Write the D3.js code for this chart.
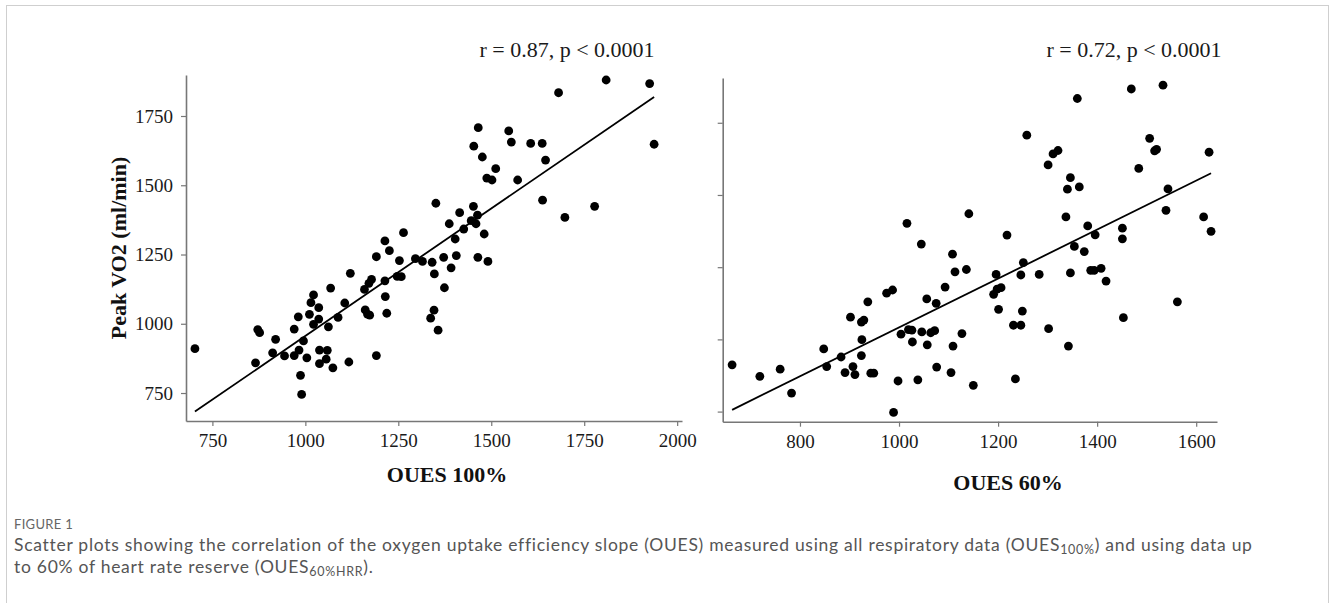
<!DOCTYPE html>
<html>
<head>
<meta charset="utf-8">
<script src="https://cdn.jsdelivr.net/npm/d3@7"></script>
<style>
  html, body { margin: 0; padding: 0; background: #fff; }
  svg { display: block; }
</style>
</head>
<body>
<script>
// OUES 100% vs Peak VO2 (left panel)
const oues100 = [1351, 1415, 1387, 1264, 1214, 1809, 1926, 1681, 1465, 1547, 1554, 1606, 1637, 1453, 1938, 1476,
  1646, 1512, 1488, 1502, 1571, 1638, 1778, 1698, 1452, 1463, 1446, 1459, 1426, 1481, 1403, 1226, 1191, 1406,
  1253, 1296, 1315, 1341, 1372, 1392, 1347, 1247, 1258, 1121, 1178, 1171, 1214, 1159, 1374, 1068, 1215, 1022,
  1015, 1106, 1036, 1161, 1167, 1173, 1219, 1346, 1337, 1011, 981, 1036, 1088, 1022, 1062, 1357, 970, 872, 877,
  920, 995, 703, 983, 1038, 1059, 912, 944, 970, 1004, 1056, 1191, 866, 1038, 1117, 1074, 987, 990, 1464, 1491];
const vo2Left = [1435, 1401, 1361, 1329, 1299, 1880, 1867, 1834, 1708, 1696, 1656, 1651, 1651, 1641, 1648, 1602,
  1591, 1560, 1526, 1519, 1519, 1446, 1424, 1384, 1424, 1392, 1372, 1361, 1342, 1324, 1306, 1264, 1242, 1246,
  1228, 1235, 1225, 1222, 1240, 1202, 1180, 1171, 1170, 1182, 1160, 1146, 1155, 1124, 1130, 1129, 1098, 1104,
  1076, 1075, 1058, 1050, 1035, 1031, 1038, 1049, 1020, 1034, 1025, 1017, 1023, 998, 989, 977, 981, 979, 968,
  944, 938, 910, 905, 905, 904, 895, 884, 885, 877, 872, 885, 859, 856, 862, 841, 814, 745, 1240, 1225];

// OUES 60% vs Peak VO2 (right panel)
const oues60 = [1016, 1141, 1469, 1533, 1360, 1258, 1506, 1520, 1516, 1626, 1311, 1321, 1301, 1484, 1346, 1340,
  1364, 1543, 1337, 1539, 1615, 1218, 1381, 1451, 1396, 1630, 1451, 1045, 1108, 1113, 1136, 1093, 987, 975,
  1056, 1075, 937, 902, 929, 924, 1019, 1026, 1004, 1046, 1064, 1072, 1127, 925, 1027, 1057, 1109, 848, 883,
  924, 663, 854, 907, 1076, 719, 760, 891, 911, 943, 949, 1105, 998, 1038, 1150, 783, 989, 1354, 1374, 1251,
  1196, 1246, 1283, 1346, 1387, 1394, 1408, 1418, 1206, 1198, 1191, 1201, 1249, 1562, 1453, 1231, 1246, 1302,
  1342, 1235];
const vo2Right = [1402, 1435, 1867, 1880, 1834, 1707, 1696, 1658, 1653, 1648, 1642, 1654, 1604, 1592, 1560, 1520,
  1528, 1521, 1424, 1447, 1424, 1361, 1393, 1385, 1362, 1374, 1348, 1330, 1295, 1234, 1242, 1181, 1171, 1160,
  1140, 1125, 1130, 1077, 1067, 1060, 1034, 1032, 1018, 1026, 1023, 1030, 1020, 999, 991, 981, 977, 967, 939,
  944, 912, 906, 906, 904, 872, 897, 885, 878, 883, 883, 885, 856, 860, 841, 814, 747, 1322, 1304, 1266,
  1225, 1223, 1225, 1230, 1239, 1239, 1246, 1202, 1179, 1174, 1156, 1104, 1098, 1130, 1075, 1049, 1049, 1037,
  977, 863];

// fitted lines, end points
const fitLeft = [[703, 683], [1938, 1819]];
const fitRight = [[663, 756], [1630, 1575]];

const ticksX100 = [750, 1000, 1250, 1500, 1750, 2000];
const ticksX60 = [800, 1000, 1200, 1400, 1600];
const ticksY = [750, 1000, 1250, 1500, 1750];

const serif = "'Liberation Serif', 'Times New Roman', serif";
const sans = "Lato, 'Open Sans', sans-serif";

const svg = d3.select("body").append("svg")
    .attr("width", 1330)
    .attr("height", 603);

// light frame around the figure
svg.append("rect")
    .attr("x", 6.5).attr("y", 5.5)
    .attr("width", 1322).attr("height", 620)
    .attr("fill", "none")
    .attr("stroke", "#cfcfcf");

function drawPanel(p) {
    const x = d3.scaleLinear().domain(p.xDomain).range(p.xRange);
    const y = d3.scaleLinear().domain(p.yDomain).range(p.yRange);
    const g = svg.append("g");

    const xAxis = g.append("g")
        .attr("transform", `translate(0,${p.yRange[0]})`)
        .call(d3.axisBottom(x).tickValues(p.xTicks).tickSize(5).tickSizeOuter(0).tickPadding(8)
            .tickFormat(d3.format("d")));
    const yAxis = g.append("g")
        .attr("transform", `translate(${p.xRange[0]},0)`)
        .call(d3.axisLeft(y).tickValues(ticksY).tickSize(5).tickSizeOuter(0).tickPadding(8)
            .tickFormat(p.yLabels ? d3.format("d") : () => ""));

    [xAxis, yAxis].forEach(a => {
        a.select(".domain").attr("stroke", "#777").attr("stroke-width", 1.6);
        a.selectAll(".tick line").attr("stroke", "#777").attr("stroke-width", 1.2);
        a.selectAll(".tick text")
            .attr("font-family", serif)
            .attr("font-size", 19)
            .attr("fill", "#1a1a1a");
    });

    g.selectAll("circle")
        .data(p.xs.map((v, i) => [v, p.ys[i]]))
        .join("circle")
        .attr("cx", d => x(d[0]))
        .attr("cy", d => y(d[1]))
        .attr("r", 4.4)
        .attr("fill", "#000");

    g.append("line")
        .attr("x1", x(p.fit[0][0])).attr("y1", y(p.fit[0][1]))
        .attr("x2", x(p.fit[1][0])).attr("y2", y(p.fit[1][1]))
        .attr("stroke", "#000")
        .attr("stroke-width", 1.8);

    g.append("text")
        .attr("x", p.statX).attr("y", 57)
        .attr("text-anchor", "middle")
        .attr("font-family", serif)
        .attr("font-size", 22)
        .attr("fill", "#1a1a1a")
        .text(p.stat);

    g.append("text")
        .attr("x", p.titleX).attr("y", p.titleY)
        .attr("text-anchor", "middle")
        .attr("font-family", serif)
        .attr("font-weight", "bold")
        .attr("font-size", 22)
        .attr("fill", "#111")
        .text(p.xTitle);
}

drawPanel({
    xs: oues100, ys: vo2Left,
    xDomain: [679, 2013], xRange: [186, 682],
    yDomain: [649, 1898], yRange: [421, 75],
    xTicks: ticksX100, yLabels: true,
    fit: fitLeft,
    stat: "r = 0.87, p < 0.0001", statX: 567,
    xTitle: "OUES 100%", titleX: 447, titleY: 482
});

drawPanel({
    xs: oues60, ys: vo2Right,
    xDomain: [644, 1642], xRange: [722.7, 1217],
    yDomain: [715, 1905], yRange: [421.7, 78],
    xTicks: ticksX60, yLabels: false,
    fit: fitRight,
    stat: "r = 0.72, p < 0.0001", statX: 1134,
    xTitle: "OUES 60%", titleX: 1008, titleY: 490
});

svg.append("text")
    .attr("transform", "translate(118,248) rotate(-90)")
    .attr("text-anchor", "middle")
    .attr("dominant-baseline", "central")
    .attr("font-family", serif)
    .attr("font-weight", "bold")
    .attr("font-size", 22)
    .attr("fill", "#111")
    .text("Peak VO2 (ml/min)");

// caption
svg.append("text")
    .attr("x", 14).attr("y", 529)
    .attr("font-family", sans)
    .attr("font-size", 13)
    .attr("fill", "#666")
    .attr("letter-spacing", 0.3)
    .text("FIGURE 1");

const cap1 = svg.append("text")
    .attr("x", 14).attr("y", 551)
    .attr("font-family", sans)
    .attr("font-size", 17.5)
    .attr("letter-spacing", 0.72)
    .attr("fill", "#555");
cap1.append("tspan").text("Scatter plots showing the correlation of the oxygen uptake efficiency slope (OUES) measured using all respiratory data (OUES");
cap1.append("tspan").attr("font-size", 12.5).attr("dy", 2.5).text("100%");
cap1.append("tspan").attr("dy", -2.5).text(") and using data up");

const cap2 = svg.append("text")
    .attr("x", 14).attr("y", 573)
    .attr("font-family", sans)
    .attr("font-size", 17.5)
    .attr("letter-spacing", 0.72)
    .attr("fill", "#555");
cap2.append("tspan").text("to 60% of heart rate reserve (OUES");
cap2.append("tspan").attr("font-size", 12.5).attr("dy", 2.5).text("60%HRR");
cap2.append("tspan").attr("dy", -2.5).text(").");
</script>
</body>
</html>
